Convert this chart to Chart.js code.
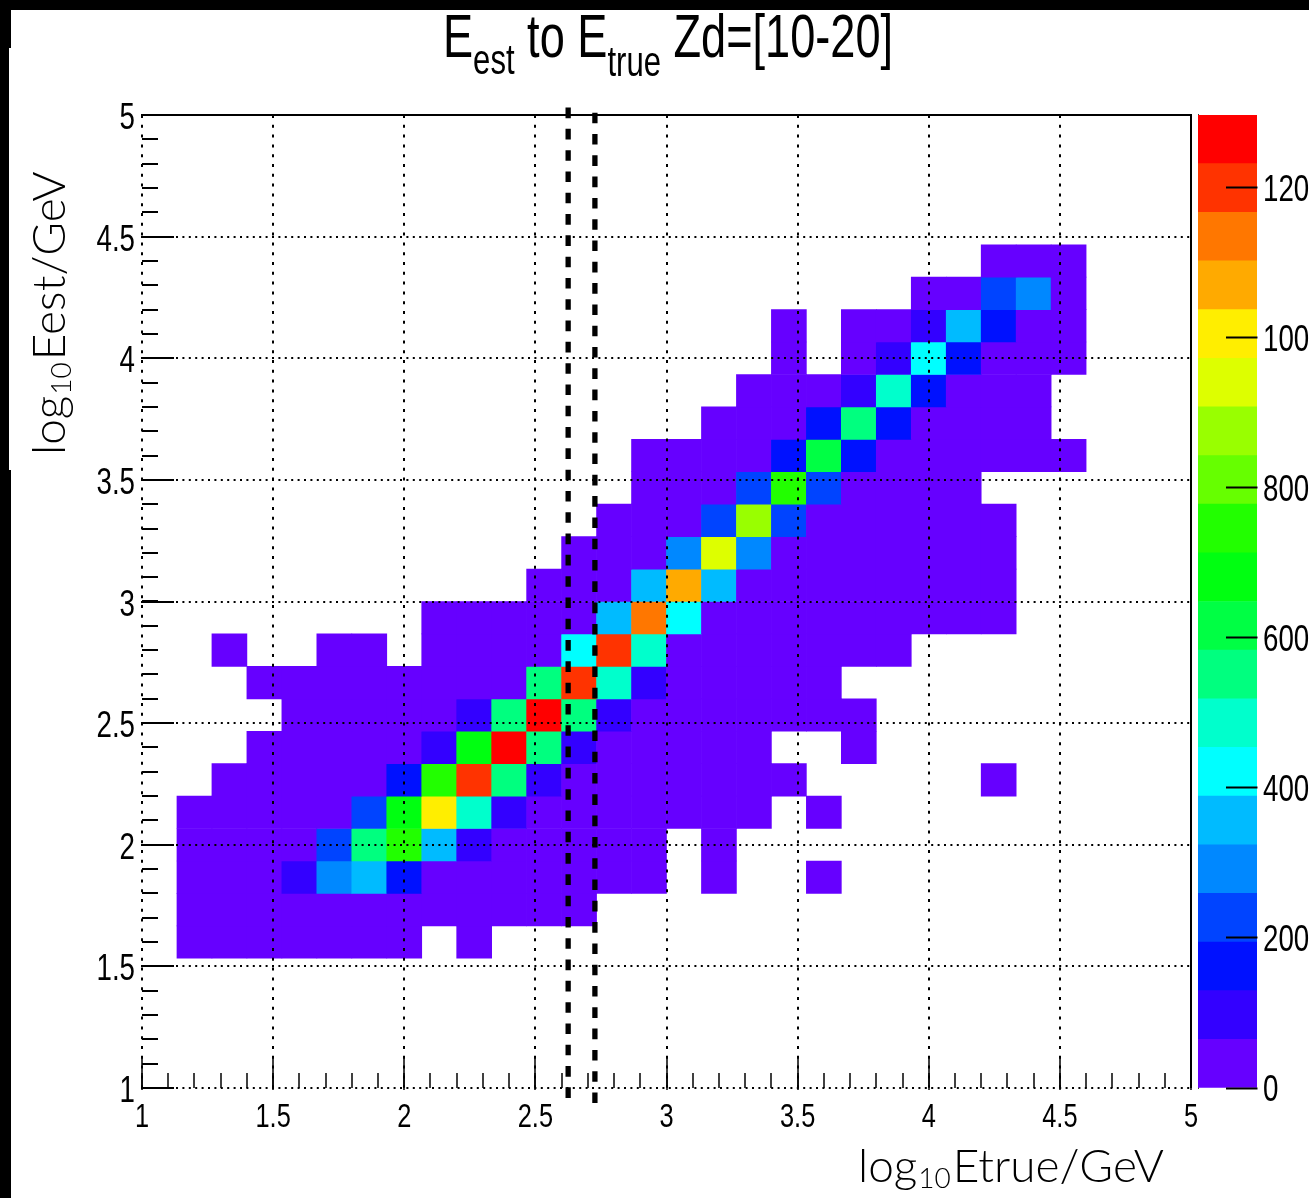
<!DOCTYPE html>
<html>
<head>
<meta charset="utf-8">
<title>Eest to Etrue</title>
<script src="https://cdn.jsdelivr.net/npm/chart.js@4/dist/chart.umd.min.js"></script>
<style>
  html, body { margin: 0; padding: 0; background: #fff; width: 1309px; height: 1198px; overflow: hidden; }
  canvas { position: absolute; top: 0; }
  .strip { position: absolute; background: #000; }
</style>
</head>
<body>
<canvas id="hist" width="1250" height="1198" style="left:0"></canvas>
<canvas id="palette" width="111" height="1198" style="left:1198px"></canvas>
<div class="strip" style="left:0;top:0;width:1309px;height:9.5px"></div>
<div class="strip" style="left:0;top:0;width:11px;height:48px"></div>
<div class="strip" style="left:0;top:48px;width:9px;height:422px"></div>
<div class="strip" style="left:0;top:470px;width:11px;height:728px"></div>
<script>
// binning of the 2D histogram, 30 x 30 between 1 and 5
var axisMin = 1;
var axisMax = 5;
var binWidth = 4 / 30;
var firstRow = 4;

// counts per row (lowest Eest first), columns start at the first Etrue bin, 0 = empty
var counts = [
  [0,20,20,20,20,20,20,20,0,20,0,0,0,0,0,0,0,0,0,0,0,0,0,0,0,0,0],
  [0,20,20,20,20,20,20,20,20,20,20,20,20,0,0,0,0,0,0,0,0,0,0,0,0,0,0],
  [0,20,20,20,100,290,355,160,20,20,20,20,20,20,20,0,20,0,0,20,0,0,0,0,0,0,0],
  [0,20,20,20,20,225,550,745,355,100,20,20,20,20,20,0,20,0,0,0,0,0,0,0,0,0,0],
  [0,20,20,20,20,20,225,680,1005,485,100,20,20,20,20,20,20,20,0,20,0,0,0,0,0,0,0],
  [0,0,20,20,20,20,20,160,745,1200,550,100,20,20,20,20,20,20,20,0,0,0,0,0,20,0,0],
  [0,0,0,20,20,20,20,20,100,680,1265,550,100,20,20,20,20,20,0,0,20,0,0,0,0,0,0],
  [0,0,0,0,20,20,20,20,20,100,550,1265,550,100,20,20,20,20,20,20,20,0,0,0,0,0,0],
  [0,0,0,20,20,20,20,20,20,20,20,550,1200,485,100,20,20,20,20,20,0,0,0,0,0,0,0],
  [0,0,20,0,0,20,20,0,20,20,20,20,420,1200,485,20,20,20,20,20,20,20,0,0,0,0,0],
  [0,0,0,0,0,0,0,0,20,20,20,20,20,355,1135,420,20,20,20,20,20,20,20,20,20,0,0],
  [0,0,0,0,0,0,0,0,0,0,0,20,20,20,355,1070,355,20,20,20,20,20,20,20,20,0,0],
  [0,0,0,0,0,0,0,0,0,0,0,0,20,20,20,290,940,290,20,20,20,20,20,20,20,0,0],
  [0,0,0,0,0,0,0,0,0,0,0,0,0,20,20,20,225,875,225,20,20,20,20,20,20,0,0],
  [0,0,0,0,0,0,0,0,0,0,0,0,0,0,20,20,20,225,745,225,20,20,20,20,0,0,0],
  [0,0,0,0,0,0,0,0,0,0,0,0,0,0,20,20,20,20,160,615,160,20,20,20,20,20,20],
  [0,0,0,0,0,0,0,0,0,0,0,0,0,0,0,0,20,20,20,160,550,160,20,20,20,20,0],
  [0,0,0,0,0,0,0,0,0,0,0,0,0,0,0,0,0,20,20,20,100,485,160,20,20,20,0],
  [0,0,0,0,0,0,0,0,0,0,0,0,0,0,0,0,0,0,20,0,20,100,420,160,20,20,20],
  [0,0,0,0,0,0,0,0,0,0,0,0,0,0,0,0,0,0,20,0,20,20,100,355,160,20,20],
  [0,0,0,0,0,0,0,0,0,0,0,0,0,0,0,0,0,0,0,0,0,0,20,20,225,290,20],
  [0,0,0,0,0,0,0,0,0,0,0,0,0,0,0,0,0,0,0,0,0,0,0,0,20,20,20]
];

// colour bands of the z axis, lowest first
var bandColors = ['#6600ff','#3300ff','#0011ff','#0044ff','#0088ff','#00bbff','#00ffff','#00ffcc',
  '#00ff7f','#00ff44','#00ff11','#22ff00','#66ff00','#99ff00','#ddff00','#ffee00','#ffaa00','#ff7700','#ff3300','#ff0000'];
var zMax = 1297;
var zBand = zMax / bandColors.length;
var zTicks = [0,200,400,600,800,1000,1200];

// the two vertical cut lines, [Etrue, lower end, upper end]
var cutX = [2.625, 2.727];
var cutLow = [0.959, 0.938];
var cutHigh = [5.037, 5.012];

var minorStep = 0.1;
var fontFamily = '"Liberation Sans", Arial, sans-serif';
var tickSqueeze = 0.77; // the original text is much narrower than Liberation Sans
var titleSqueeze = 0.74;

function bandColor(v) {
  return bandColors[Math.min(Math.floor(v / zBand), bandColors.length - 1)];
}

var cells = [];
counts.forEach(function(row, r) {
  row.forEach(function(v, c) {
    if (v > 0) {
      var lo = axisMin + (firstRow + r) * binWidth;
      cells.push({ x: axisMin + (c + 0.5) * binWidth, y: [lo, lo + binWidth], v: v });
    }
  });
});

var datasets = [{
  type: 'bar',
  data: cells,
  backgroundColor: function(c) { return c.raw ? bandColor(c.raw.v) : '#fff'; },
  borderWidth: 0,
  barPercentage: 1,
  categoryPercentage: 1,
  order: 5
}];
cutX.forEach(function(x, k) {
  datasets.push({
    type: 'line',
    data: [{ x: x, y: cutLow[k] }, { x: x, y: cutHigh[k] }],
    borderColor: '#000',
    borderWidth: 5.3,
    borderDash: [10.6, 10.7],
    pointRadius: 0,
    clip: false,
    order: 1
  });
});

// narrow text: canvas has no condensed font here, so squeeze it
function narrowText(ctx, text, x, y, size, align, squeeze) {
  ctx.save();
  ctx.font = size + 'px ' + fontFamily;
  ctx.textAlign = align;
  ctx.textBaseline = 'alphabetic';
  ctx.translate(x, y);
  ctx.scale(squeeze, 1);
  ctx.fillText(text, 0, 0);
  ctx.restore();
}

function drawSub(ctx, x, y, a, sub, b) {
  var big = ctx.font;
  ctx.fillText(a, x, y);
  x += ctx.measureText(a).width + 1;
  ctx.font = '300 28px Lato, sans-serif';
  ctx.fillText(sub, x, y + 6);
  x += ctx.measureText(sub).width + 2;
  ctx.font = big;
  ctx.fillText(b, x, y);
}

// minor ticks, frame, tick labels and the titles that need subscripts
var decorations = {
  id: 'decorations',
  afterDraw: function(chart) {
    var ctx = chart.ctx, a = chart.chartArea, sx = chart.scales.x, sy = chart.scales.y;
    ctx.save();
    ctx.setLineDash([]);
    ctx.strokeStyle = '#000';
    ctx.lineWidth = 2;
    ctx.beginPath();
    ctx.moveTo(a.left, a.top); ctx.lineTo(a.right, a.top); ctx.lineTo(a.right, a.bottom);
    ctx.stroke();

    for (var t = axisMin; t < axisMax - 0.01; t += minorStep) {
      var px = Math.round(sx.getPixelForValue(t));
      var py = Math.round(sy.getPixelForValue(t));
      ctx.lineWidth = 1.5;
      ctx.beginPath(); ctx.moveTo(px, a.bottom); ctx.lineTo(px, a.bottom - 15); ctx.stroke();
      ctx.lineWidth = 2;
      ctx.beginPath(); ctx.moveTo(a.left, py); ctx.lineTo(a.left + 16, py); ctx.stroke();
    }

    ctx.fillStyle = '#000';
    sx.ticks.forEach(function(tk, i) {
      narrowText(ctx, tk.label, sx.getPixelForTick(i), 1127, 33, 'center', tickSqueeze);
    });
    sy.ticks.forEach(function(tk, i) {
      narrowText(ctx, tk.label, 135, sy.getPixelForTick(i) + 14, 36, 'right', tickSqueeze);
    });

    var title = [['E', 61, 57], ['est', 42, 74], [' to ', 61, 57], ['E', 61, 57], ['true', 42, 76], [' Zd=[10-20]', 61, 57]];
    var tx = 443;
    title.forEach(function(s) {
      narrowText(ctx, s[0], tx, s[2], s[1], 'left', titleSqueeze);
      ctx.font = s[1] + 'px ' + fontFamily;
      tx += ctx.measureText(s[0]).width * titleSqueeze;
    });

    ctx.textBaseline = 'alphabetic';
    ctx.font = '300 46px Lato, sans-serif';
    drawSub(ctx, 858, 1182, 'log', '10', 'Etrue/GeV');
    ctx.translate(65, 455);
    ctx.rotate(-Math.PI / 2);
    drawSub(ctx, 0, 0, 'log', '10', 'Eest/GeV');
    ctx.restore();
  }
};

var paletteLabels = {
  id: 'paletteLabels',
  afterDraw: function(chart) {
    var s = chart.scales.y;
    chart.ctx.fillStyle = '#000';
    s.ticks.forEach(function(tk, i) {
      narrowText(chart.ctx, tk.label, 65, s.getPixelForTick(i) + 13, 36, 'left', tickSqueeze);
    });
  }
};

function tickText(v) { return String(v); }

new Chart(document.getElementById('hist').getContext('2d'), {
  data: { datasets: datasets },
  plugins: [decorations],
  options: {
    responsive: false,
    animation: false,
    layout: { padding: { top: 115, right: 59, left: 0, bottom: 0 } },
    plugins: { legend: { display: false }, tooltip: { enabled: false } },
    scales: {
      x: {
        type: 'linear', min: axisMin, max: axisMax, offset: false,
        afterFit: function(s) { s.height = 110; s.paddingLeft = 0; s.paddingRight = 0; },
        border: { color: '#000', width: 3, dash: [3, 6.8] },
        grid: { z: 1, offset: false, color: '#000', lineWidth: 2, tickLength: -30, tickColor: '#000', tickWidth: 1.5, tickBorderDash: [40, 0] },
        ticks: { display: false, stepSize: 0.5, callback: tickText, autoSkip: false, maxRotation: 0, minRotation: 0 }
      },
      y: {
        type: 'linear', min: axisMin, max: axisMax,
        afterFit: function(s) { s.width = 142; s.paddingTop = 0; s.paddingBottom = 0; },
        border: { color: '#000', width: 3, dash: [2, 4.4] },
        grid: { z: 1, color: '#000', lineWidth: 2, tickLength: -32, tickColor: '#000', tickWidth: 2, tickBorderDash: [40, 0] },
        ticks: { display: false, stepSize: 0.5, callback: tickText, autoSkip: false }
      }
    }
  }
});

// colour palette on the right, cut by the page edge like the original
new Chart(document.getElementById('palette').getContext('2d'), {
  type: 'bar',
  data: {
    labels: ['z'],
    datasets: bandColors.map(function(col, b) {
      return { data: [[b * zBand, (b + 1) * zBand]], backgroundColor: col, borderWidth: 0, grouped: false, barPercentage: 1, categoryPercentage: 1 };
    })
  },
  plugins: [paletteLabels],
  options: {
    responsive: false,
    animation: false,
    layout: { padding: { top: 115, left: 0, right: 0, bottom: 0 } },
    plugins: { legend: { display: false }, tooltip: { enabled: false } },
    scales: {
      x: { display: true, afterFit: function(s) { s.height = 110; s.paddingLeft = 0; s.paddingRight = 0; }, border: { display: false }, grid: { display: false }, ticks: { display: false } },
      y: {
        position: 'right', min: 0, max: zMax,
        afterFit: function(s) { s.width = 52; s.paddingTop = 0; s.paddingBottom = 0; },
        afterBuildTicks: function(s) { s.ticks = zTicks.map(function(v) { return { value: v }; }); },
        border: { color: '#000', width: 1.5 },
        grid: { z: 1, drawOnChartArea: false, tickLength: -31, tickColor: '#000', tickWidth: 2 },
        ticks: { display: false, callback: tickText, autoSkip: false }
      }
    }
  }
});
</script>
</body>
</html>
